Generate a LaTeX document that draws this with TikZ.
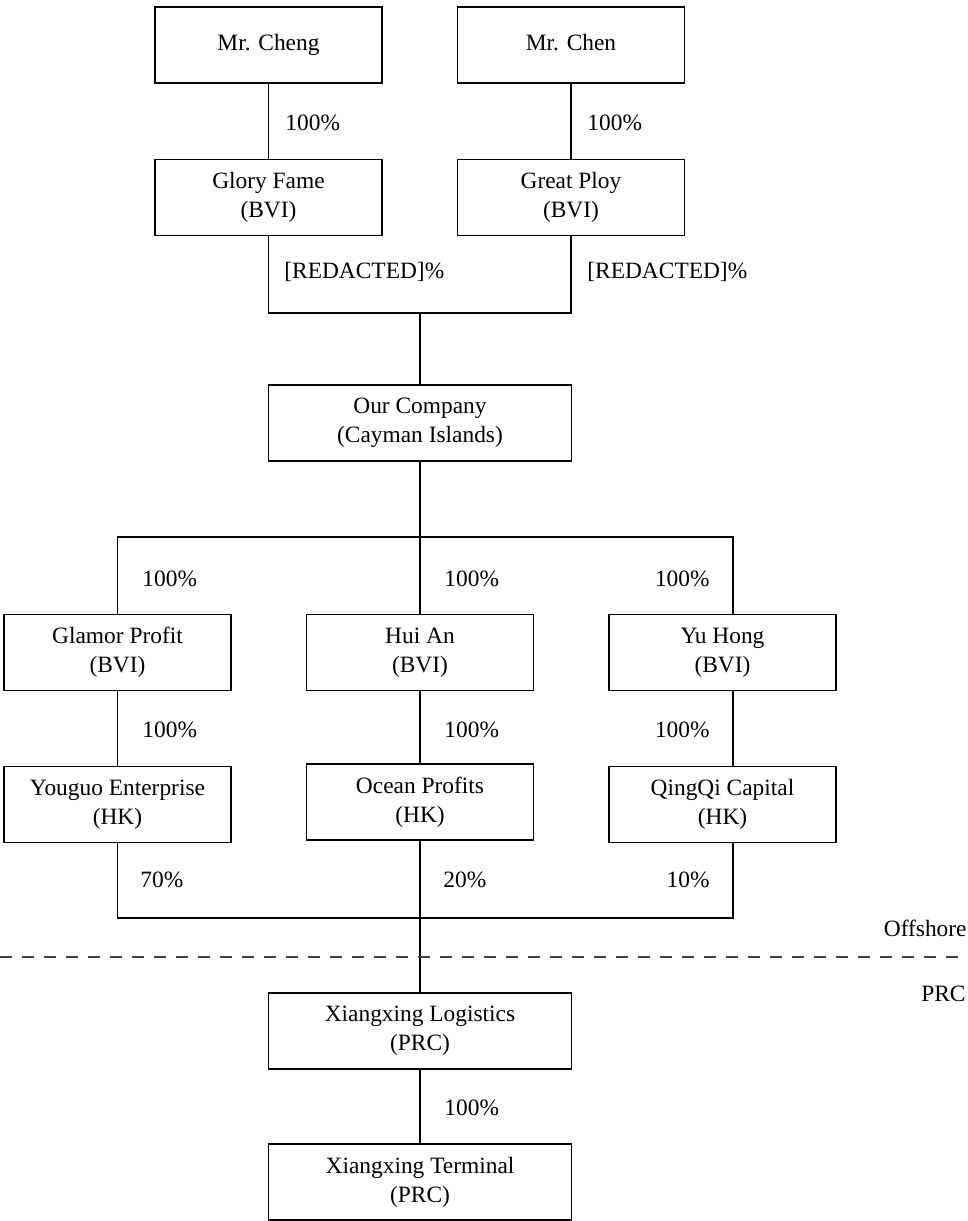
\documentclass[tikz,border=0pt]{standalone}
\usepackage{fontspec}
\setmainfont{Liberation Serif}
\usepackage{tikz}
\pgfdeclarelayer{edgelayer}
\pgfdeclarelayer{nodelayer}
\pgfsetlayers{edgelayer,nodelayer,main}
\tikzstyle{edge}=[draw=black, line width=0.65pt]
\tikzstyle{borderline}=[draw=black!75, line width=0.65pt, dash pattern=on 6pt off 5pt]
\tikzstyle{entity}=[rectangle, fill=white, draw=black, line width=0.8pt, align=center, minimum width=113.5pt, minimum height=38pt, inner sep=0pt, font=\fontsize{11.7}{14.5}\selectfont]
\tikzstyle{wideentity}=[entity, minimum width=151.5pt]
\tikzstyle{share}=[inner sep=0pt, font=\fontsize{11.7}{14.5}\selectfont]

\begin{document}
\begin{tikzpicture}[x=0.5pt, y=-0.5pt]
						\useasboundingbox (0, 0) rectangle (968, 1221);
						\begin{pgfonlayer}{nodelayer}
							\node [style=entity] (cheng) at (268.5, 45) {\strut Mr. Cheng};
							\node [style=entity] (chen) at (571, 45) {\strut Mr. Chen};
							\node [style=entity] (glory) at (268.5, 197.5) {Glory Fame\\(BVI)};
							\node [style=entity] (ploy) at (571, 197.5) {Great Ploy\\(BVI)};
							\node [style=wideentity] (ourco) at (420, 423) {Our Company\\(Cayman Islands)};
							\node [style=entity] (glamor) at (117.5, 652.5) {Glamor Profit\\(BVI)};
							\node [style=entity] (huian) at (420, 652.5) {Hui An\\(BVI)};
							\node [style=entity] (yuhong) at (722.5, 652.5) {Yu Hong\\(BVI)};
							\node [style=entity] (youguo) at (117.5, 804.5) {Youguo Enterprise\\(HK)};
							\node [style=entity] (ocean) at (420, 802) {Ocean Profits\\(HK)};
							\node [style=entity] (qingqi) at (722.5, 804.5) {QingQi Capital\\(HK)};
							\node [style=wideentity] (logis) at (420, 1031) {Xiangxing Logistics\\(PRC)};
							\node [style=wideentity] (term) at (420, 1182) {Xiangxing Terminal\\(PRC)};
							% percentages
							\node [style=share, anchor=west] (s1) at (285, 123) {100\%};
							\node [style=share, anchor=west] (s2) at (587, 123) {100\%};
							\node [style=share, anchor=west] (s3) at (284, 272) {[REDACTED]\%};
							\node [style=share, anchor=west] (s4) at (587, 272) {[REDACTED]\%};
							\node [style=share, anchor=west] (s5) at (142, 579) {100\%};
							\node [style=share, anchor=west] (s6) at (444, 579) {100\%};
							\node [style=share, anchor=east] (s7) at (710, 579) {100\%};
							\node [style=share, anchor=west] (s8) at (142, 730) {100\%};
							\node [style=share, anchor=west] (s9) at (444, 730) {100\%};
							\node [style=share, anchor=east] (s10) at (710, 730) {100\%};
							\node [style=share, anchor=west] (s11) at (140, 880) {70\%};
							\node [style=share, anchor=west] (s12) at (443, 880) {20\%};
							\node [style=share, anchor=east] (s13) at (710, 880) {10\%};
							\node [style=share, anchor=west] (s14) at (444, 1108) {100\%};
							\node [style=share, anchor=east] (offshore) at (967, 928) {Offshore};
							\node [style=share, anchor=east] (prc) at (966, 994) {PRC};
						\end{pgfonlayer}
						\begin{pgfonlayer}{edgelayer}
							\coordinate (topbus) at (420, 313);
							\coordinate (midbus) at (420, 537);
							\coordinate (rightleg) at (733, 537);
							\coordinate (lowbus) at (420, 918);
							\coordinate (dl) at (0, 957);
							\coordinate (dr) at (968, 957);
							\draw [style=edge] (cheng) to (glory);
							\draw [style=edge] (chen) to (ploy);
							\draw [style=edge] (glory.south) |- (topbus) -| (ploy.south);
							\draw [style=edge] (topbus) to (ourco.north);
							\draw [style=edge] (ourco.south) to (midbus);
							\draw [style=edge] (glamor.north) |- (rightleg) -- (yuhong.north -| rightleg);
							\draw [style=edge] (midbus) to (huian.north);
							\draw [style=edge] (glamor) to (youguo);
							\draw [style=edge] (huian) to (ocean);
							\draw [style=edge] (yuhong.south -| rightleg) to (qingqi.north -| rightleg);
							\draw [style=edge] (youguo.south) |- (lowbus) -| (qingqi.south -| rightleg);
							\draw [style=edge] (ocean.south) to (logis.north);
							\draw [style=edge] (logis) to (term);
							\draw [style=borderline] (dl) to (dr);
						\end{pgfonlayer}
					\end{tikzpicture}
\end{document}
